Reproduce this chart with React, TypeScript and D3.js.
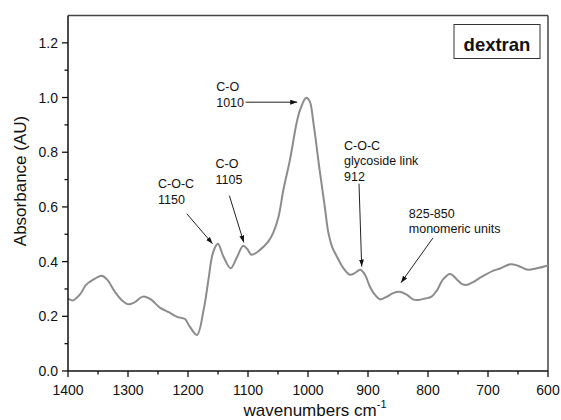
import * as d3 from 'd3';
import React from 'react';

// spectrum (wavenumber cm-1, absorbance)
const wavenumbers = [
  1400, 1392, 1380, 1370, 1363, 1355, 1344, 1335, 1322, 1310, 1300, 1290, 1275, 1262,
  1247, 1232, 1218, 1205, 1197, 1185, 1174, 1166, 1160, 1155, 1150, 1141, 1129,
  1119, 1108, 1101, 1094, 1080, 1066, 1058, 1049, 1041, 1030, 1019, 1013, 1003, 997,
  991, 980, 972, 966, 960, 952, 941, 930, 922, 913, 905, 897, 889, 880,
  870, 858, 847, 835, 825, 816, 805, 794, 785, 775, 763, 752, 743, 735, 725, 710, 691,
  680, 663, 650, 633, 620, 600,
];
const absorbance = [
  0.265, 0.258, 0.28, 0.315, 0.327, 0.338, 0.348, 0.335, 0.29, 0.258, 0.244, 0.25, 0.272, 0.262,
  0.232, 0.215, 0.198, 0.19, 0.162, 0.132, 0.223, 0.333, 0.419, 0.452, 0.465, 0.419, 0.376,
  0.413, 0.458, 0.445, 0.425, 0.443, 0.474, 0.505, 0.565, 0.663, 0.773, 0.907, 0.956, 0.999, 0.985,
  0.908, 0.725, 0.6, 0.505, 0.455, 0.419, 0.376, 0.352, 0.358, 0.37, 0.352, 0.309, 0.28, 0.262,
  0.27, 0.285, 0.29, 0.278, 0.262, 0.26, 0.265, 0.272, 0.295, 0.335, 0.355, 0.335, 0.318, 0.315,
  0.325, 0.345, 0.367, 0.375, 0.39, 0.385, 0.37, 0.375, 0.386,
];

const xTicks = [1400, 1300, 1200, 1100, 1000, 900, 800, 700, 600];
const yTicks = [0.0, 0.2, 0.4, 0.6, 0.8, 1.0, 1.2];

// annotations: label lines, text anchor, arrow from -> to (data units)
const annLabels = [
  ['C-O-C', '1150'],
  ['C-O', '1105'],
  ['C-O', '1010'],
  ['C-O-C', 'glycoside link', '912'],
  ['825-850', 'monomeric units'],
];
const annText = [
  [1250, 0.668],
  [1154, 0.742],
  [1153, 1.023],
  [940, 0.809],
  [832, 0.561],
];
const annFrom = [
  [1202, 0.575],
  [1131, 0.641],
  [1104, 0.983],
  [915, 0.685],
  [792, 0.486],
];
const annTo = [
  [1159, 0.465],
  [1107, 0.47],
  [1018, 0.983],
  [910.5, 0.382],
  [845, 0.323],
];

const W = 561;
const H = 420;
const margin = { top: 15.5, right: 13, bottom: 49, left: 68 };
const font = 'Liberation Sans, Arial, Helvetica, sans-serif';

export default function App() {
  const x = d3.scaleLinear().domain([1400, 600]).range([margin.left, W - margin.right]);
  const y = d3.scaleLinear().domain([0, 1.3]).range([H - margin.bottom, margin.top]);

  const pts = wavenumbers.map((w, i) => [w, absorbance[i]] as [number, number]);
  const line = d3
    .line<[number, number]>()
    .x((d) => x(d[0]))
    .y((d) => y(d[1]))
    .curve(d3.curveCatmullRom.alpha(0.5));

  const xMinor = d3.range(1350, 600, -100);
  const yMinor = d3.range(0.1, 1.3, 0.2);
  const x0 = x(1400);
  const x1 = x(600);
  const y0 = y(0);
  const y1 = y(1.3);

  return (
    <svg
      width={W}
      height={H}
      style={{ position: 'absolute', left: 0, top: 0, background: '#fff' }}
      fontFamily={font}
    >
      <defs>
        <marker id="arr" viewBox="0 0 10 10" refX="10" refY="5" markerWidth="7" markerHeight="7" orient="auto">
          <path d="M0,1.5 L10,5 L0,8.5 z" fill="#111" />
        </marker>
      </defs>

      {/* frame */}
      <line x1={x0} x2={x1} y1={y1} y2={y1} stroke="#444" strokeWidth={1.5} />
      <line x1={x1} x2={x1} y1={y1} y2={y0} stroke="#444" strokeWidth={1.5} />

      {/* spectrum */}
      <path d={line(pts) || ''} fill="none" stroke="#8c8c8c" strokeWidth={2} />

      {/* axes */}
      <line x1={x0} x2={x1} y1={y0} y2={y0} stroke="#111" strokeWidth={1.5} />
      <line x1={x0} x2={x0} y1={y1} y2={y0} stroke="#111" strokeWidth={1.5} />
      {xTicks.map((t) => (
        <g key={'xt' + t}>
          <line x1={x(t)} x2={x(t)} y1={y0} y2={y0 + 6} stroke="#111" strokeWidth={1.3} />
          <text x={x(t)} y={y0 + 24} textAnchor="middle" fontSize={14} fill="#111">
            {t}
          </text>
        </g>
      ))}
      {xMinor.map((t) => (
        <line key={'xm' + t} x1={x(t)} x2={x(t)} y1={y0} y2={y0 + 3.5} stroke="#111" strokeWidth={1.3} />
      ))}
      {yTicks.map((t) => (
        <g key={'yt' + t}>
          <line x1={x0 - 6} x2={x0} y1={y(t)} y2={y(t)} stroke="#111" strokeWidth={1.3} />
          <text x={x0 - 10} y={y(t) + 5} textAnchor="end" fontSize={14} fill="#111">
            {t.toFixed(1)}
          </text>
        </g>
      ))}
      {yMinor.map((t) => (
        <line key={'ym' + t} x1={x0 - 3.5} x2={x0} y1={y(t)} y2={y(t)} stroke="#111" strokeWidth={1.3} />
      ))}

      {/* axis titles */}
      <text
        transform={`translate(26,181) rotate(-90)`}
        textAnchor="middle"
        fontSize={17}
        fill="#111"
      >
        Absorbance (AU)
      </text>
      <text x={315} y={416} textAnchor="middle" fontSize={17} fill="#111">
        wavenumbers cm
        <tspan dy={-8} fontSize={11}>
          -1
        </tspan>
      </text>

      {/* legend box */}
      <rect x={454} y={24.5} width={86} height={34} fill="#fff" stroke="#333" strokeWidth={1} />
      <text x={497} y={50.5} textAnchor="middle" fontSize={18.5} fontWeight="bold" fill="#111">
        dextran
      </text>

      {/* annotations */}
      {annLabels.map((lines, i) => (
        <g key={'ann' + i}>
          <text x={x(annText[i][0])} y={y(annText[i][1])} fontSize={12.5} fill="#111">
            {lines.map((s, j) => (
              <tspan key={j} x={x(annText[i][0])} dy={j === 0 ? 0 : 15.5}>
                {s}
              </tspan>
            ))}
          </text>
          <line
            x1={x(annFrom[i][0])}
            y1={y(annFrom[i][1])}
            x2={x(annTo[i][0])}
            y2={y(annTo[i][1])}
            stroke="#222"
            strokeWidth={1}
            markerEnd="url(#arr)"
          />
        </g>
      ))}
    </svg>
  );
}
